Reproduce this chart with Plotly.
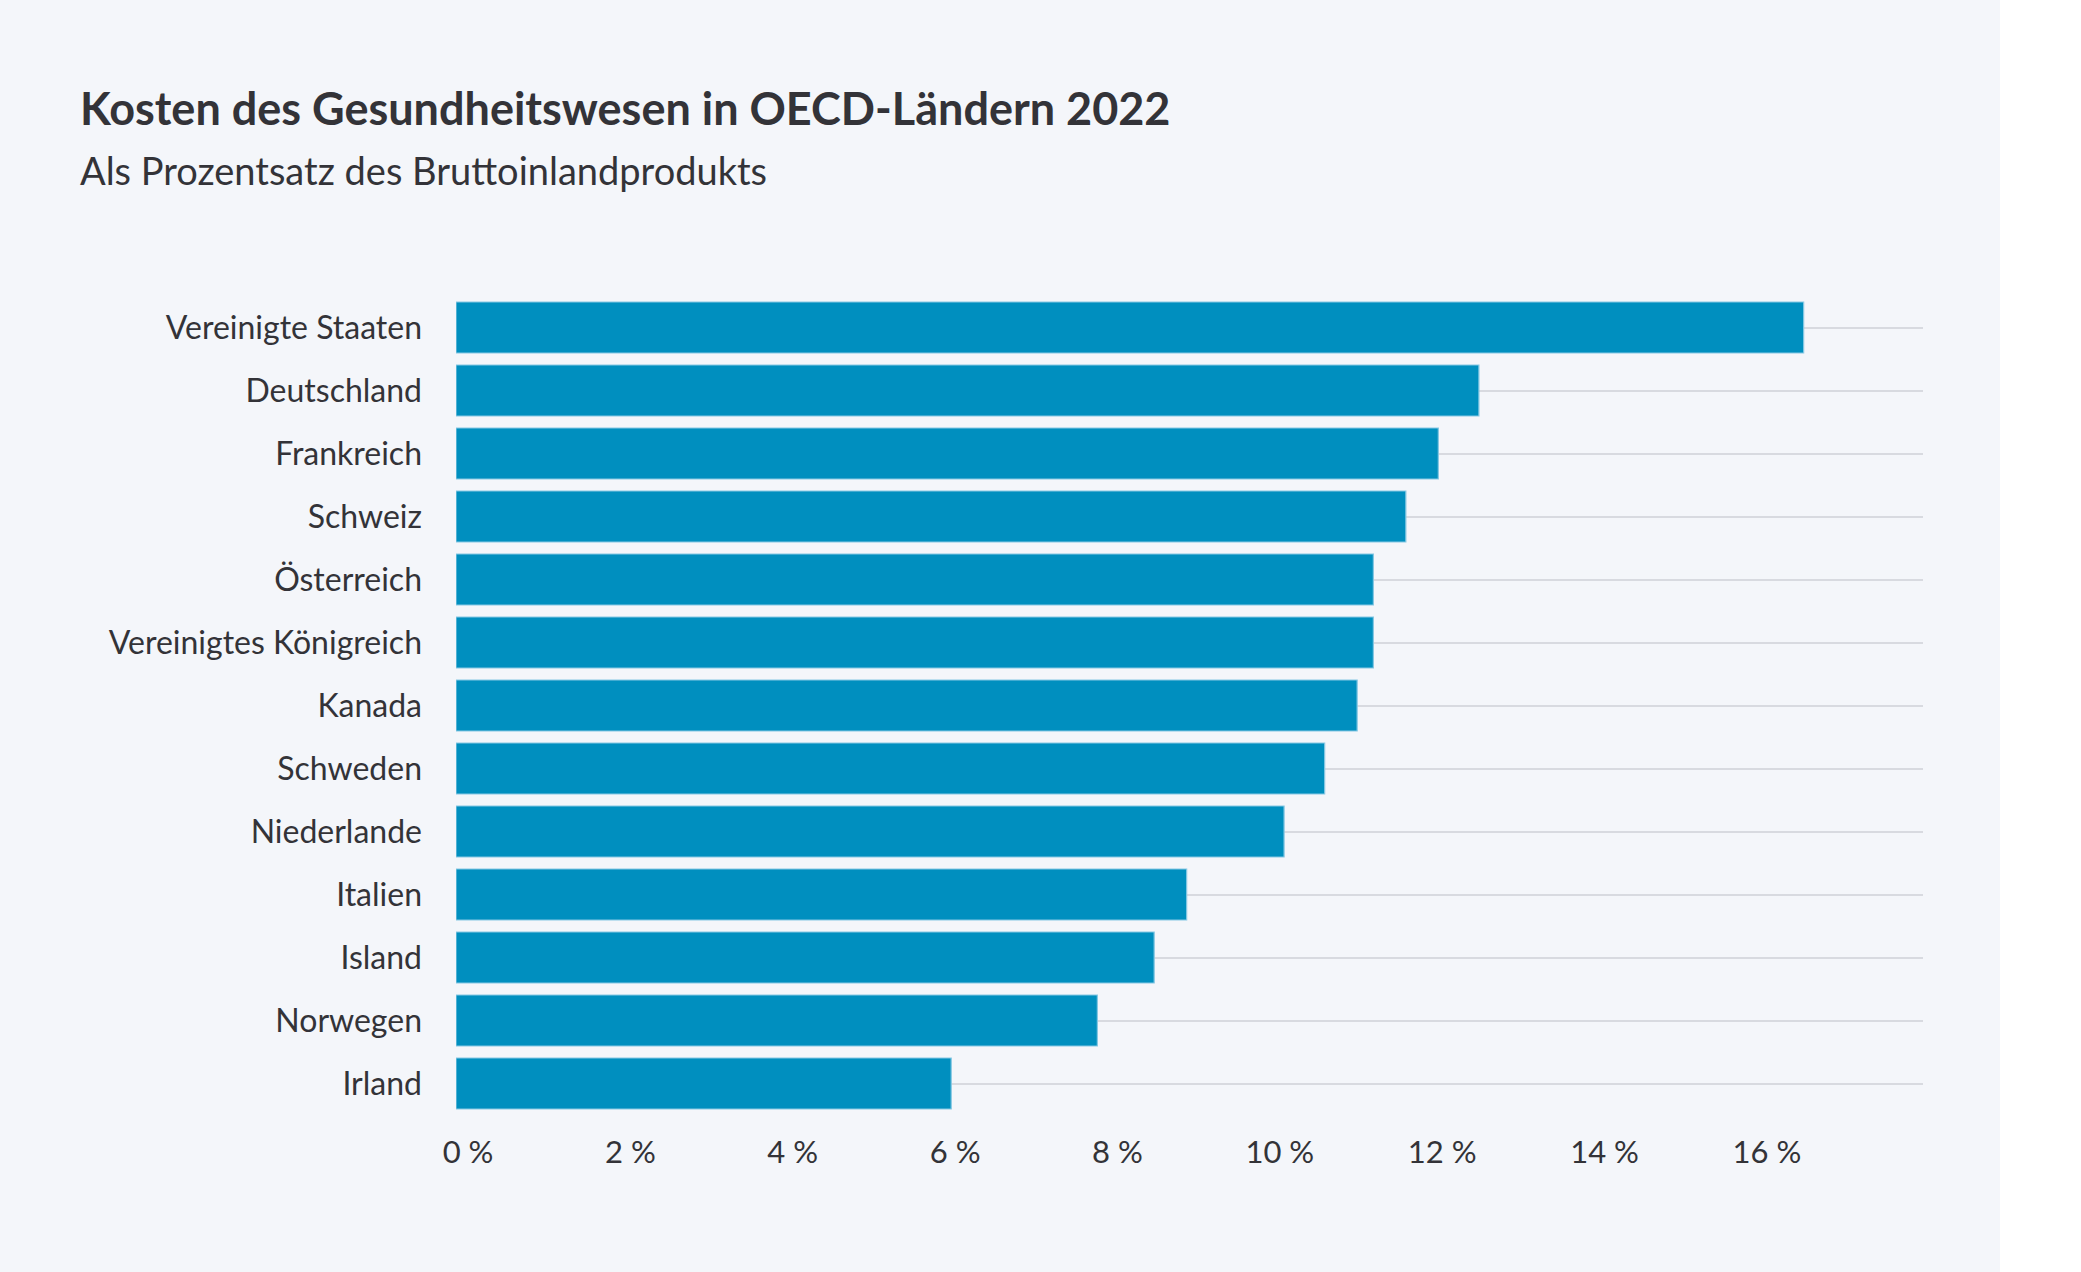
import plotly.graph_objects as go

# ---- data ----
countries = [
    "Vereinigte Staaten", "Deutschland", "Frankreich", "Schweiz", "Österreich",
    "Vereinigtes Königreich", "Kanada", "Schweden", "Niederlande", "Italien",
    "Island", "Norwegen", "Irland",
]
health_spending_pct = [16.6, 12.6, 12.1, 11.7, 11.3, 11.3, 11.1, 10.7, 10.2, 9.0, 8.6, 7.9, 6.1]
tick_values = [0, 2, 4, 6, 8, 10, 12, 14, 16]
tick_labels = [f"{v} %" for v in tick_values]

title_text = "Kosten des Gesundheitswesen in OECD-Ländern 2022"
subtitle_text = "Als Prozentsatz des Bruttoinlandprodukts"

# ---- layout geometry (pixels) ----
W, H = 2081, 1272
L, R, T, B = 456, 158, 296, 157
plot_w = W - L - R
plot_h = H - T - B

def px_x(x):
    return (x - L) / plot_w

def px_y(y):
    return 1 - (y - T) / plot_h

BG = "#f4f6fa"
TEXT = "#333338"
BAR = "#008fbf"
FONT = "Lato"

fig = go.Figure(
    go.Bar(
        x=health_spending_pct,
        y=countries,
        orientation="h",
        marker=dict(color=BAR, line=dict(color="#86c8e3", width=1.2)),
        hoverinfo="x+y",
    )
)

fig.update_layout(
    width=W,
    height=H,
    autosize=False,
    margin=dict(l=L, r=R, t=T, b=B, pad=0),
    paper_bgcolor="#ffffff",
    plot_bgcolor=BG,
    bargap=0.19,
    showlegend=False,
    font=dict(family=FONT, color=TEXT, size=31),
    xaxis=dict(
        range=[0, 18.07],
        tickvals=tick_values,
        ticktext=tick_labels,
        showgrid=False,
        zeroline=False,
        showline=False,
        ticks="",
        ticklabelstandoff=16,
        ticklabelshift=12,
        tickfont=dict(size=31, color=TEXT, family=FONT),
        fixedrange=True,
    ),
    yaxis=dict(
        categoryorder="array",
        categoryarray=countries[::-1],
        showgrid=True,
        gridcolor="#d8dae0",
        gridwidth=1.5,
        zeroline=False,
        showline=False,
        ticks="",
        ticklabelstandoff=33,
        tickfont=dict(size=32, color=TEXT, family=FONT),
        fixedrange=True,
    ),
    shapes=[
        dict(
            type="rect", xref="paper", yref="paper",
            x0=px_x(0), x1=px_x(2000), y0=px_y(H), y1=px_y(0),
            fillcolor=BG, line=dict(width=0), layer="below",
        )
    ],
    annotations=[
        dict(
            text=f"<b>{title_text}</b>", xref="paper", yref="paper",
            x=px_x(78), y=px_y(108), xanchor="left", yanchor="middle",
            showarrow=False, font=dict(size=45, color=TEXT, family=FONT),
        ),
        dict(
            text=subtitle_text, xref="paper", yref="paper",
            x=px_x(78), y=px_y(170), xanchor="left", yanchor="middle",
            showarrow=False, font=dict(size=38, color=TEXT, family=FONT),
        ),
    ],
)

fig.write_html(
    "out.html",
    config={"displayModeBar": False},
    post_script="document.body.style.margin='0';document.body.style.padding='0';",
)
